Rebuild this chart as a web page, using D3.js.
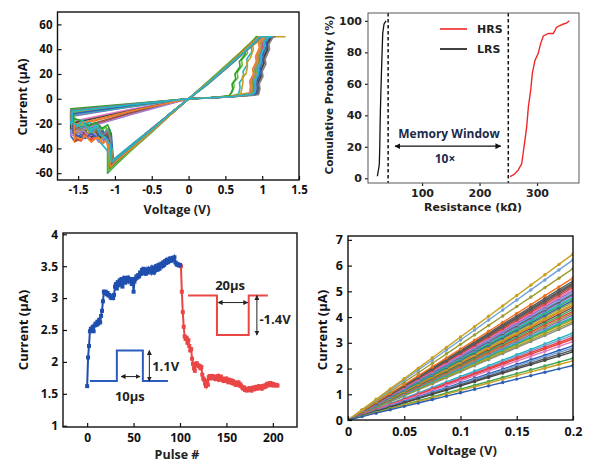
<!DOCTYPE html>
<html><head><meta charset="utf-8">
<script src="https://cdn.jsdelivr.net/npm/d3@7"></script>
<style>body{margin:0;background:#fff}svg{display:block}</style>
</head><body>
<svg id="c" width="590" height="465"></svg>
<script>
// ---------- DATA ----------
// Panel A: I-V switching cycles, [voltage V, current uA]
const ivCycles = [
 [[0,0],[0.3,0.9],[0.6,2.1],[0.88,4.2],[0.92,5.5],[0.93,10],[0.92,13],[0.96,18],[0.95,22],[0.99,28],[0.98,31],[1.03,38],[1.02,42],[1.08,47],[1.1,50],[1.14,50],[0.97,50],[0.75,38],[0.5,25],[0.25,12],[0,0],
  [-0.25,-12],[-0.5,-25],[-0.75,-37],[-1.0,-49],[-1.04,-52],[-1.06,-36],[-1.07,-28],[-1.12,-30],[-1.18,-24],[-1.25,-28],[-1.32,-22],[-1.4,-26],[-1.48,-21],[-1.55,-24],[-1.58,-19],[-1.58,-12],[-0.8,-5.5],[0,0]],
 [[0,0],[0.3,0.8],[0.6,1.9],[0.85,3.6],[0.88,5],[0.89,9],[0.88,12],[0.93,18],[0.92,22],[0.97,30],[0.96,34],[1.01,41],[1.0,45],[1.06,50],[1.12,50],[0.95,50],[0.72,37],[0.48,24],[0.24,11],[0,0],
  [-0.25,-13],[-0.5,-26],[-0.75,-39],[-1.0,-51],[-1.06,-54],[-1.08,-40],[-1.09,-30],[-1.15,-33],[-1.22,-27],[-1.3,-30],[-1.38,-24],[-1.45,-27],[-1.52,-22],[-1.58,-25],[-1.58,-14],[-0.8,-6.5],[0,0]],
 [[0,0],[0.3,0.7],[0.6,1.8],[0.9,3.8],[0.95,5],[0.96,10],[0.95,14],[1.0,20],[0.99,24],[1.04,31],[1.03,35],[1.08,42],[1.07,46],[1.13,50],[1.16,50],[1.0,50],[0.77,38],[0.52,25],[0.26,12],[0,0],
  [-0.25,-12],[-0.5,-24],[-0.75,-36],[-1.0,-48],[-1.02,-50],[-1.05,-28],[-1.08,-24],[-1.12,-30],[-1.2,-22],[-1.28,-27],[-1.35,-21],[-1.43,-28],[-1.5,-30],[-1.55,-34],[-1.6,-30],[-1.6,-10],[-0.8,-4.8],[0,0]],
 [[0,0],[0.3,1],[0.6,2.3],[0.82,4],[0.86,6],[0.87,11],[0.86,15],[0.9,21],[0.89,25],[0.94,31],[0.93,35],[0.98,42],[0.97,46],[1.03,50],[1.1,50],[0.94,50],[0.7,37],[0.47,25],[0.23,12],[0,0],
  [-0.25,-13],[-0.5,-27],[-0.75,-40],[-1.0,-54],[-1.1,-60],[-1.1,-42],[-1.08,-32],[-1.11,-24],[-1.16,-30],[-1.22,-22],[-1.3,-26],[-1.38,-19],[-1.46,-23],[-1.53,-17],[-1.6,-15],[-1.6,-9],[-0.8,-4.5],[0,0]],
 [[0,0],[0.3,0.8],[0.6,2],[0.86,3.9],[0.9,5],[0.91,9],[0.9,13],[0.95,19],[0.94,23],[0.99,29],[0.98,33],[1.04,40],[1.03,44],[1.1,50],[1.13,50],[0.96,50],[0.74,38],[0.5,25],[0.25,12],[0,0],
  [-0.25,-13],[-0.5,-26],[-0.75,-39],[-1.0,-52],[-1.07,-55],[-1.1,-38],[-1.12,-32],[-1.18,-36],[-1.25,-30],[-1.32,-34],[-1.4,-28],[-1.47,-32],[-1.55,-35],[-1.55,-22],[-0.8,-10.5],[0,0]],
 [[0,0],[0.3,0.9],[0.6,2.2],[0.84,4],[0.87,5.5],[0.88,10],[0.87,14],[0.92,20],[0.91,24],[0.96,30],[0.95,34],[1.0,41],[0.99,45],[1.08,50],[1.11,50],[0.96,50],[0.73,38],[0.49,25],[0.25,12],[0,0],
  [-0.25,-12],[-0.5,-25],[-0.75,-38],[-1.0,-50],[-1.05,-53],[-1.08,-34],[-1.11,-28],[-1.16,-32],[-1.24,-27],[-1.32,-33],[-1.4,-29],[-1.46,-34],[-1.52,-33],[-1.52,-25],[-0.8,-12],[0,0]],
 [[0,0],[0.3,0.8],[0.6,2.2],[0.68,4],[0.7,9],[0.69,13],[0.75,18],[0.74,22],[0.8,28],[0.79,32],[0.86,38],[0.85,42],[0.93,47],[0.98,50],[1.15,50],[0.98,50],[0.75,37],[0.5,24],[0.25,11],[0,0],
  [-0.25,-12],[-0.5,-24],[-0.75,-36],[-1.0,-48],[-1.03,-49],[-1.04,-40],[-1.1,-35],[-1.2,-30],[-1.28,-24],[-1.35,-18],[-1.4,-25],[-1.45,-26],[-1.52,-21],[-1.6,-18],[-1.6,-12],[-0.8,-5.8],[0,0]],
 [[0,0],[0.45,1.3],[0.9,5.5],[0.92,12],[0.91,18],[0.94,26],[0.93,32],[0.97,40],[1.0,50],[1.31,50],[0.93,50],[0.7,37],[0.46,24],[0.23,12],[0,0],
  [-0.25,-12],[-0.5,-25],[-0.75,-38],[-1.0,-50],[-1.03,-51],[-1.06,-32],[-1.1,-26],[-1.18,-29],[-1.26,-23],[-1.35,-26],[-1.45,-22],[-1.52,-25],[-1.6,-20],[-1.6,-11],[-0.8,-5.2],[0,0]],
 [[0,0],[0.3,0.9],[0.6,2.1],[0.8,3.5],[0.84,6],[0.85,11],[0.84,15],[0.89,20],[0.88,24],[0.93,31],[0.92,35],[0.98,42],[0.97,46],[1.04,50],[1.08,50],[0.95,50],[0.72,37],[0.48,24],[0.24,12],[0,0],
  [-0.25,-13],[-0.5,-26],[-0.75,-39],[-1.0,-52],[-1.05,-55],[-1.07,-45],[-1.1,-36],[-1.16,-31],[-1.22,-35],[-1.3,-28],[-1.36,-32],[-1.42,-30],[-1.5,-25],[-1.55,-27],[-1.55,-18],[-0.8,-8.6],[0,0]],
 [[0,0],[0.3,0.8],[0.6,1.9],[0.88,3.8],[0.92,5],[0.93,10],[0.92,14],[0.97,21],[0.96,25],[1.01,31],[1.0,35],[1.06,42],[1.05,46],[1.1,50],[1.18,50],[1.0,50],[0.77,38],[0.52,25],[0.26,12],[0,0],
  [-0.25,-12],[-0.5,-24],[-0.75,-37],[-1.0,-49],[-1.05,-52],[-1.07,-30],[-1.1,-25],[-1.15,-28],[-1.22,-22],[-1.3,-25],[-1.38,-20],[-1.46,-23],[-1.52,-22],[-1.6,-26],[-1.6,-13],[-0.8,-6],[0,0]],
 [[0,0],[0.3,0.9],[0.6,2.2],[0.83,4],[0.86,5],[0.87,10],[0.86,13],[0.91,19],[0.9,23],[0.95,30],[0.94,34],[0.99,41],[0.98,45],[1.06,50],[1.1,50],[0.95,50],[0.72,37],[0.48,24],[0.24,11],[0,0],
  [-0.25,-13],[-0.5,-26],[-0.75,-39],[-1.0,-51],[-1.08,-57],[-1.09,-44],[-1.1,-35],[-1.15,-29],[-1.2,-32],[-1.28,-26],[-1.36,-28],[-1.45,-25],[-1.52,-20],[-1.58,-23],[-1.58,-11],[-0.8,-5.5],[0,0]],
 [[0,0],[0.3,0.7],[0.6,1.7],[0.9,3.2],[0.94,4.5],[0.95,9],[0.94,13],[0.99,19],[0.98,23],[1.03,29],[1.02,33],[1.08,40],[1.07,44],[1.14,50],[1.16,50],[0.99,50],[0.76,38],[0.51,25],[0.25,12],[0,0],
  [-0.25,-12],[-0.5,-25],[-0.75,-37],[-1.0,-49],[-1.04,-51],[-1.06,-33],[-1.1,-27],[-1.16,-31],[-1.24,-26],[-1.32,-29],[-1.4,-27],[-1.45,-30],[-1.53,-34],[-1.53,-24],[-0.8,-11.5],[0,0]],
 [[0,0],[0.3,0.8],[0.6,1.8],[0.88,3],[0.92,4],[0.94,8],[0.93,12],[0.98,17],[0.97,21],[1.02,28],[1.01,32],[1.07,39],[1.06,43],[1.12,50],[1.15,50],[0.98,50],[0.75,38],[0.5,25],[0.25,12],[0,0],
  [-0.25,-12],[-0.5,-25],[-0.75,-38],[-1.0,-50],[-1.06,-54],[-1.08,-37],[-1.1,-30],[-1.16,-33],[-1.25,-28],[-1.32,-31],[-1.4,-26],[-1.5,-28],[-1.6,-24],[-1.6,-20],[-0.8,-9.6],[0,0]],
 [[0,0],[0.3,0.9],[0.55,2.2],[0.6,6],[0.62,10],[0.61,13],[0.67,17],[0.66,21],[0.73,27],[0.72,31],[0.8,37],[0.79,41],[0.88,46],[0.95,50],[1.06,50],[0.93,50],[0.7,37],[0.46,24],[0.23,12],[0,0],
  [-0.25,-13],[-0.5,-27],[-0.75,-40],[-1.0,-53],[-1.08,-58],[-1.08,-46],[-1.06,-35],[-1.08,-27],[-1.12,-23],[-1.2,-26],[-1.28,-21],[-1.36,-24],[-1.44,-20],[-1.5,-22],[-1.55,-20],[-1.55,-10],[-0.8,-4.8],[0,0]],
 [[0,0],[0.3,0.8],[0.6,2],[0.85,3.8],[0.89,5],[0.9,10],[0.89,14],[0.94,19],[0.93,24],[0.98,30],[0.97,34],[1.03,41],[1.02,45],[1.09,50],[1.12,50],[0.96,50],[0.74,38],[0.5,25],[0.25,12],[0,0],
  [-0.25,-12],[-0.5,-24],[-0.75,-37],[-1.0,-49],[-1.04,-50],[-1.1,-42],[-1.2,-35],[-1.3,-28],[-1.38,-18],[-1.45,-24],[-1.5,-21],[-1.55,-22],[-1.6,-20],[-1.6,-13],[-0.8,-6.5],[0,0]],
 [[0,0],[0.35,1],[0.7,2.4],[0.72,7],[0.74,14],[0.73,18],[0.78,20],[0.8,26],[0.79,29],[0.84,33],[0.88,40],[0.87,43],[0.94,46],[0.97,50],[1.08,50],[0.93,50],[0.7,37],[0.46,24],[0.23,11],[0,0],
  [-0.25,-12],[-0.5,-25],[-0.75,-37],[-1.0,-50],[-1.05,-52],[-1.07,-35],[-1.12,-30],[-1.2,-33],[-1.3,-26],[-1.38,-28],[-1.45,-24],[-1.52,-27],[-1.58,-26],[-1.58,-12],[-0.8,-5.7],[0,0]],
 [[0,0],[0.3,0.8],[0.6,1.9],[0.87,3.7],[0.9,5],[0.91,11],[0.9,15],[0.95,21],[0.94,25],[0.99,31],[0.98,35],[1.03,42],[1.02,46],[1.1,50],[1.14,50],[0.97,50],[0.75,38],[0.5,25],[0.25,12],[0,0],
  [-0.25,-13],[-0.5,-26],[-0.75,-38],[-1.0,-51],[-1.06,-54],[-1.08,-39],[-1.12,-31],[-1.2,-34],[-1.28,-28],[-1.35,-30],[-1.42,-26],[-1.5,-28],[-1.6,-30],[-1.6,-27],[-0.8,-13],[0,0]],
 [[0,0],[0.3,0.7],[0.6,1.8],[0.89,3.5],[0.93,5],[0.94,11],[0.93,15],[0.98,21],[0.97,26],[1.02,32],[1.01,36],[1.06,43],[1.05,47],[1.12,50],[1.15,50],[0.99,50],[0.76,38],[0.51,25],[0.25,12],[0,0],
  [-0.25,-12],[-0.5,-25],[-0.75,-37],[-1.0,-50],[-1.05,-53],[-1.06,-35],[-1.12,-30],[-1.18,-26],[-1.25,-31],[-1.32,-28],[-1.4,-32],[-1.5,-30],[-1.57,-28],[-1.57,-12],[-0.8,-5.6],[0,0]],
 [[0,0],[0.3,0.9],[0.55,2.5],[0.58,5],[0.6,8],[0.59,12],[0.64,16],[0.63,20],[0.7,26],[0.69,30],[0.77,36],[0.76,40],[0.85,45],[0.92,50],[1.1,50],[0.94,50],[0.71,37],[0.47,24],[0.24,12],[0,0],
  [-0.25,-13],[-0.5,-26],[-0.75,-39],[-1.0,-52],[-1.07,-56],[-1.06,-44],[-1.05,-34],[-1.07,-25],[-1.1,-21],[-1.18,-24],[-1.26,-19],[-1.35,-22],[-1.45,-18],[-1.55,-16],[-1.6,-14],[-1.6,-8],[-0.8,-4],[0,0]],
 [[0,0],[0.3,0.7],[0.6,1.6],[0.9,2.8],[0.95,3.5],[0.97,8],[0.96,12],[1.01,18],[1.0,22],[1.05,28],[1.04,32],[1.1,40],[1.09,44],[1.15,50],[1.17,50],[1.0,50],[0.77,38],[0.52,25],[0.26,12],[0,0],
  [-0.25,-12],[-0.5,-24],[-0.75,-37],[-1.0,-49],[-1.04,-51],[-1.06,-31],[-1.1,-26],[-1.16,-29],[-1.24,-24],[-1.32,-27],[-1.4,-22],[-1.48,-25],[-1.56,-21],[-1.6,-17],[-1.6,-9],[-0.8,-4.4],[0,0]],
 [[0,0],[0.3,0.8],[0.6,2],[0.8,3.4],[0.83,5],[0.84,10],[0.83,14],[0.88,20],[0.87,24],[0.92,30],[0.91,34],[0.96,41],[0.95,45],[1.02,50],[1.1,50],[0.95,50],[0.72,37],[0.48,24],[0.24,12],[0,0],
  [-0.25,-13],[-0.5,-26],[-0.75,-39],[-1.0,-51],[-1.06,-55],[-1.08,-41],[-1.1,-33],[-1.16,-36],[-1.24,-31],[-1.32,-35],[-1.4,-30],[-1.46,-33],[-1.52,-31],[-1.55,-33],[-1.55,-21],[-0.8,-10],[0,0]],
 [[0,0],[0.3,0.8],[0.6,1.9],[0.86,3.6],[0.9,5],[0.91,9],[0.9,14],[0.95,20],[0.94,24],[0.99,30],[0.98,35],[1.04,42],[1.03,46],[1.1,50],[1.13,50],[0.97,50],[0.74,37],[0.5,25],[0.25,12],[0,0],
  [-0.25,-12],[-0.5,-25],[-0.75,-37],[-1.0,-49],[-1.05,-51],[-1.06,-38],[-1.12,-32],[-1.2,-29],[-1.26,-21],[-1.32,-27],[-1.38,-23],[-1.44,-17],[-1.5,-22],[-1.58,-19],[-1.58,-10],[-0.8,-5],[0,0]]
];
const ivColors = ["#5a5a5a","#9467bd","#2d5fb4","#3aa655","#f07020","#e8403c","#24b4c0","#c8a01e","#e377c2","#6fa0d8","#9c9c32","#8c564b","#444444","#6cbf3a","#1fb5c4","#c8a01e","#a47fd0","#3060c0","#2ca02c","#7f7f7f","#f08030","#20b8c8"];
const aXTicks = [-1.5,-1,-0.5,0,0.5,1,1.5];
const aYTicks = [-60,-40,-20,0,20,40,60];

// Panel B: cumulative distributions (resistance kOhm, probability %)
const lrsR = [22.3,23.5,25.0,25.7,26.5,27.0,27.5,28.2,29.0,29.9,30.8,31.6,33.9,37.4];
const lrsP = [1.3,4,7,9.4,20,32.7,42,51.8,62,73,83,92,98,100];
const hrsR = [253,258,261.7,267.5,273.4,277.4,282,285,289,291.8,296.5,302,306.4,311,319.7,328.3,334,345.8,351,356];
const hrsP = [1,2,3,5.3,9.4,20,32.7,45.5,56,66.6,75,79.3,85.7,90.4,92,92,96,98,98.5,100];
const windowBounds = [41,250];
const bXTicks = [100,200,300];
const bYTicks = [0,20,40,60,80,100];

// Panel C: pulse response (current uA); set pulses 0..100, reset pulses 101..205
const setCurrents = [1.62,2.07,2.25,2.48,2.52,2.50,2.55,2.48,2.57,2.60,2.58,2.63,2.60,2.66,2.62,2.72,2.80,2.95,3.10,3.08,
 3.10,3.06,3.08,3.04,3.05,3.02,3.00,3.03,3.00,3.05,3.18,3.22,3.15,3.25,3.20,3.28,3.22,3.30,3.18,3.26,
 3.32,3.24,3.30,3.28,3.32,3.26,3.30,3.28,3.22,3.30,3.10,3.26,3.30,3.34,3.32,3.36,3.34,3.40,3.38,3.44,
 3.40,3.46,3.40,3.38,3.44,3.40,3.46,3.42,3.44,3.40,3.48,3.44,3.40,3.46,3.50,3.44,3.48,3.52,3.46,3.50,
 3.54,3.50,3.56,3.52,3.58,3.55,3.60,3.56,3.58,3.62,3.58,3.60,3.63,3.60,3.64,3.56,3.54,3.52,3.53,3.51,3.52];
const resetCurrents = [3.50,3.10,2.78,2.55,2.40,2.36,2.38,2.30,2.34,2.25,2.18,2.20,2.05,1.97,1.90,1.86,1.96,1.98,1.95,1.93,
 1.94,1.90,1.92,1.80,1.74,1.72,1.66,1.62,1.70,1.64,1.76,1.78,1.74,1.76,1.78,1.75,1.77,1.73,1.76,1.74,
 1.78,1.72,1.75,1.77,1.72,1.74,1.70,1.73,1.71,1.74,1.70,1.68,1.72,1.69,1.71,1.67,1.70,1.66,1.68,1.64,
 1.67,1.65,1.68,1.63,1.65,1.62,1.60,1.58,1.60,1.56,1.57,1.55,1.58,1.56,1.59,1.57,1.55,1.58,1.60,1.57,
 1.59,1.61,1.58,1.60,1.62,1.59,1.61,1.58,1.62,1.60,1.63,1.61,1.64,1.66,1.63,1.65,1.67,1.64,1.66,1.63,
 1.65,1.64,1.63,1.64,1.63];
const resetStart = 101;
const cXTicks = [0,50,100,150,200];
const cYTicks = [1,1.5,2,2.5,3,3.5,4];
// inset pulse shapes in (pulse #, current) coordinates
const setPulse = [[3,1.70],[32,1.70],[32,2.18],[60,2.18],[60,1.70],[87,1.70]];
const resetPulse = [[108.6,3.04],[139.8,3.04],[139.8,2.42],[174,2.42],[174,3.04],[194.6,3.04]];

// Panel D: read currents at 0.2 V for each sweep (uA)
const dEndCurrents = [3.75,3.82,3.9,3.95,4.0,4.08,4.15,4.22,4.3,4.38,4.45,4.5,4.58,4.65,4.72,4.78,4.85,4.9,4.95,5.02,
 5.08,5.15,5.22,5.28,5.33,5.40,5.52,5.88,6.22,6.45,3.38,3.3,3.22,3.15,3.05,2.88,2.8,2.72,2.65,2.4,2.3,2.12];
const dColors = ["#8a8a8a","#9c9c32","#c8a01e","#3aa655","#24b4c0","#9467bd","#9c9c32","#e8403c","#3aa655","#5a5a5a","#f07020","#c8a01e","#9c9c32","#2d5fb4","#3aa655","#24b4c0","#9467bd","#5a5a5a","#6fa0d8","#9467bd",
 "#e377c2","#e8403c","#8c564b","#5a5a5a","#5a5a5a","#5a5a5a","#f07020","#9c9c32","#6fa0d8","#c8a01e","#24b4c0","#6fa0d8","#e8403c","#e8403c","#e377c2","#2d5fb4","#6fa0d8","#5a5a5a","#444444","#3aa655","#c8a01e","#2d5fb4"];
const dVoltages = [0,0.0125,0.025,0.0375,0.05,0.0625,0.075,0.0875,0.1,0.1125,0.125,0.1375,0.15,0.1625,0.175,0.1875,0.2];
const dXTicks = [0,0.05,0.1,0.15,0.2];
const dYTicks = [0,1,2,3,4,5,6,7];

// ---------- DRAWING ----------
const svg = d3.select("#c");
const F = "'Open Sans', 'Liberation Sans', sans-serif";
const FB = "'DejaVu Sans', sans-serif";
const defs = svg.append("defs");
function mk(id, color, s){
  defs.append("marker").attr("id",id).attr("viewBox","0 0 10 10").attr("refX",9).attr("refY",5)
   .attr("markerWidth",s).attr("markerHeight",s).attr("orient","auto-start-reverse")
   .append("path").attr("d","M0,0 L10,5 L0,10 z").attr("fill",color);
}
mk("arrK","#111",5); mk("arrD","#222",5);
function clip(id,x0,y0,x1,y1){
  defs.append("clipPath").attr("id",id).append("rect").attr("x",x0).attr("y",y0).attr("width",x1-x0).attr("height",y1-y0);
}
function styleAx(sel, font, size, color){
  sel.select(".domain").remove();
  sel.selectAll("text").attr("font-family",font).attr("font-weight","bold").attr("font-size",size).attr("fill",color||"#111");
  sel.selectAll("line").attr("stroke",color||"#111").attr("stroke-width",1.2);
}
const fmt = d => String(d);

// ===== Panel A =====
{
  const x0=57.5,x1=299,y0=12,y1=180;
  const x = d3.scaleLinear().domain([-1.78,1.5]).range([x0,x1]);
  const y = d3.scaleLinear().domain([-65.5,70]).range([y1,y0]);
  clip("cA",x0,y0,x1,y1);
  const g = svg.append("g");
  const line = d3.line().x(d=>x(d[0])).y(d=>y(d[1]));
  g.append("g").attr("clip-path","url(#cA)").selectAll("path").data(ivCycles).join("path")
    .attr("d",line).attr("fill","none").attr("stroke",(d,i)=>ivColors[i%ivColors.length])
    .attr("stroke-width",1.6).attr("stroke-linejoin","round");
  g.append("g").attr("transform",`translate(0,${y1})`)
    .call(d3.axisBottom(x).tickValues(aXTicks).tickSize(-4).tickPadding(6).tickFormat(fmt))
    .call(s=>styleAx(s,F,11.5));
  g.append("g").attr("transform",`translate(${x0},0)`)
    .call(d3.axisLeft(y).tickValues(aYTicks).tickSize(-4).tickPadding(5).tickFormat(fmt))
    .call(s=>styleAx(s,F,11.5));
  g.append("rect").attr("x",x0).attr("y",y0).attr("width",x1-x0).attr("height",y1-y0)
    .attr("fill","none").attr("stroke","#111").attr("stroke-width",1.4);
  g.append("text").attr("x",177).attr("y",214).attr("text-anchor","middle")
    .attr("font-family",F).attr("font-weight","bold").attr("font-size",12.5).attr("fill","#222").text("Voltage (V)");
  g.append("text").attr("transform","translate(27,97) rotate(-90)").attr("text-anchor","middle")
    .attr("font-family",F).attr("font-weight","bold").attr("font-size",12.5).attr("fill","#111").text("Current (μA)");
}

// ===== Panel B =====
{
  const x0=368,x1=579,y0=13,y1=183;
  const x = d3.scaleLinear().domain([6,373]).range([x0,x1]);
  const y = d3.scaleLinear().domain([-3,105]).range([y1,y0]);
  const g = svg.append("g");
  const line = d3.line().x(d=>x(d[0])).y(d=>y(d[1]));
  g.append("path").attr("d",line(lrsR.map((r,i)=>[r,lrsP[i]]))).attr("fill","none").attr("stroke","#111").attr("stroke-width",1.3);
  g.append("path").attr("d",line(hrsR.map((r,i)=>[r,hrsP[i]]))).attr("fill","none").attr("stroke","#f02828").attr("stroke-width",1.4);
  g.selectAll("line.win").data(windowBounds).join("line").attr("class","win")
    .attr("x1",d=>x(d)).attr("x2",d=>x(d)).attr("y1",y0).attr("y2",y1)
    .attr("stroke","#111").attr("stroke-width",1.5).attr("stroke-dasharray","3.5,2.5");
  g.append("line").attr("x1",x(53)).attr("x2",x(237)).attr("y1",y(20.4)).attr("y2",y(20.4))
    .attr("stroke","#111").attr("stroke-width",1.2).attr("marker-start","url(#arrK)").attr("marker-end","url(#arrK)");
  g.append("text").attr("x",449).attr("y",138).attr("text-anchor","middle")
    .attr("font-family",F).attr("font-weight","bold").attr("font-size",12).attr("fill","#1d2a4a").text("Memory Window");
  g.append("text").attr("x",445).attr("y",163).attr("text-anchor","middle")
    .attr("font-family",F).attr("font-weight","bold").attr("font-size",12).attr("fill","#1d2a4a").text("10×");
  g.append("g").attr("transform",`translate(0,${y1})`)
    .call(d3.axisBottom(x).tickValues(bXTicks).tickSize(3).tickPadding(3).tickFormat(fmt))
    .call(s=>styleAx(s,FB,11,"#222"));
  g.append("g").attr("transform",`translate(${x0},0)`)
    .call(d3.axisLeft(y).tickValues(bYTicks).tickSize(3).tickPadding(3).tickFormat(fmt))
    .call(s=>styleAx(s,FB,11,"#222"));
  g.append("rect").attr("x",x0).attr("y",y0).attr("width",x1-x0).attr("height",y1-y0)
    .attr("fill","none").attr("stroke","#666").attr("stroke-width",1.1);
  const leg = [["HRS","#f02828",29],["LRS","#111",49]];
  leg.forEach(([t,c,yy])=>{
    g.append("line").attr("x1",440).attr("x2",467).attr("y1",yy).attr("y2",yy).attr("stroke",c).attr("stroke-width",1.6);
    g.append("text").attr("x",477).attr("y",yy+4).attr("font-family",FB).attr("font-weight","bold").attr("font-size",11).attr("fill","#222").text(t);
  });
  g.append("text").attr("x",473).attr("y",211).attr("text-anchor","middle")
    .attr("font-family",FB).attr("font-weight","bold").attr("font-size",11).attr("fill","#222").text("Resistance (kΩ)");
  g.append("text").attr("transform","translate(333,95) rotate(-90)").attr("text-anchor","middle")
    .attr("font-family",FB).attr("font-weight","bold").attr("font-size",10.5).attr("fill","#222").text("Comulative Probability (%)");
}

// ===== Panel C =====
{
  const x0=63,x1=297,y0=233,y1=427;
  const x = d3.scaleLinear().domain([-26,226]).range([x0,x1]);
  const y = d3.scaleLinear().domain([0.98,4.02]).range([y1,y0]);
  const g = svg.append("g");
  const line = d3.line().x(d=>x(d[0])).y(d=>y(d[1]));
  const setPts = setCurrents.map((v,i)=>[i,v]);
  const resetPts = [[setCurrents.length-1,setCurrents[setCurrents.length-1]]].concat(resetCurrents.map((v,i)=>[resetStart+i,v]));
  const blue="#1f4fae", red="#ea4646";
  g.append("path").attr("d",line(resetPts)).attr("fill","none").attr("stroke",red).attr("stroke-width",2);
  g.selectAll("rect.r").data(resetPts.slice(1)).join("rect").attr("class","r")
    .attr("x",d=>x(d[0])-2).attr("y",d=>y(d[1])-2).attr("width",4).attr("height",4).attr("fill",red);
  g.append("path").attr("d",line(setPts)).attr("fill","none").attr("stroke",blue).attr("stroke-width",2);
  g.selectAll("rect.b").data(setPts).join("rect").attr("class","b")
    .attr("x",d=>x(d[0])-2).attr("y",d=>y(d[1])-2).attr("width",4).attr("height",4).attr("fill",blue);
  g.append("path").attr("d",line(setPulse)).attr("fill","none").attr("stroke","#2a5cbf").attr("stroke-width",2);
  g.append("path").attr("d",line(resetPulse)).attr("fill","none").attr("stroke","#ea4646").attr("stroke-width",2);
  const arr = (a,b)=>g.append("line").attr("x1",x(a[0])).attr("y1",y(a[1])).attr("x2",x(b[0])).attr("y2",y(b[1]))
     .attr("stroke","#222").attr("stroke-width",1).attr("marker-start","url(#arrD)").attr("marker-end","url(#arrD)");
  arr([36.5,1.77],[57,1.77]);
  arr([67,2.18],[67,1.70]);
  arr([141,2.93],[173,2.93]);
  arr([182.8,3.04],[182.8,2.42]);
  const lab=(t,px,py,anchor)=>g.append("text").attr("x",x(px)).attr("y",y(py)).attr("text-anchor",anchor)
     .attr("font-family",F).attr("font-weight","bold").attr("font-size",13).attr("fill","#222").text(t);
  lab("1.1V",70,1.85,"start");
  lab("10μs",46,1.38,"middle");
  lab("20μs",154,3.13,"middle");
  lab("-1.4V",185.5,2.6,"start");
  g.append("g").attr("transform",`translate(0,${y1})`)
    .call(d3.axisBottom(x).tickValues(cXTicks).tickSize(-4).tickPadding(6).tickFormat(fmt))
    .call(s=>styleAx(s,F,12));
  g.append("g").attr("transform",`translate(${x0},0)`)
    .call(d3.axisLeft(y).tickValues(cYTicks).tickSize(-4).tickPadding(5).tickFormat(fmt))
    .call(s=>styleAx(s,F,12));
  g.append("rect").attr("x",x0).attr("y",y0).attr("width",x1-x0).attr("height",y1-y0)
    .attr("fill","none").attr("stroke","#111").attr("stroke-width",1.4);
  g.append("text").attr("x",177).attr("y",459).attr("text-anchor","middle")
    .attr("font-family",F).attr("font-weight","bold").attr("font-size",12.5).attr("fill","#222").text("Pulse #");
  g.append("text").attr("transform","translate(28,330) rotate(-90)").attr("text-anchor","middle")
    .attr("font-family",F).attr("font-weight","bold").attr("font-size",13).attr("fill","#111").text("Current (μA)");
}

// ===== Panel D =====
{
  const x0=348,x1=573,y0=236,y1=420;
  const x = d3.scaleLinear().domain([0,0.2]).range([x0,x1]);
  const y = d3.scaleLinear().domain([0,7.15]).range([y1,y0]);
  clip("cD",x0,y0,x1,y1);
  const g = svg.append("g");
  const lines = dEndCurrents.map(iEnd => dVoltages.map(v => [v, iEnd*v/0.2]));
  const line = d3.line().x(d=>x(d[0])).y(d=>y(d[1]));
  const pg = g.append("g").attr("clip-path","url(#cD)");
  lines.forEach((pts,i)=>{
    const c = dColors[i%dColors.length];
    pg.append("path").attr("d",line(pts)).attr("fill","none").attr("stroke",c).attr("stroke-width",1.4);
    pg.selectAll(null).data(pts).join("circle").attr("cx",d=>x(d[0])).attr("cy",d=>y(d[1])).attr("r",1.7).attr("fill",c);
  });
  g.append("g").attr("transform",`translate(0,${y1})`)
    .call(d3.axisBottom(x).tickValues(dXTicks).tickSize(-4).tickPadding(7).tickFormat(fmt))
    .call(s=>styleAx(s,F,12.5));
  g.append("g").attr("transform",`translate(${x0},0)`)
    .call(d3.axisLeft(y).tickValues(dYTicks).tickSize(-4).tickPadding(5).tickFormat(fmt))
    .call(s=>styleAx(s,F,12.5));
  g.append("rect").attr("x",x0).attr("y",y0).attr("width",x1-x0).attr("height",y1-y0)
    .attr("fill","none").attr("stroke","#111").attr("stroke-width",1.4);
  g.append("text").attr("x",462).attr("y",455).attr("text-anchor","middle")
    .attr("font-family",F).attr("font-weight","bold").attr("font-size",13).attr("fill","#222").text("Voltage (V)");
  g.append("text").attr("transform","translate(327,330) rotate(-90)").attr("text-anchor","middle")
    .attr("font-family",F).attr("font-weight","bold").attr("font-size",13).attr("fill","#111").text("Current (μA)");
}
</script>
</body></html>
